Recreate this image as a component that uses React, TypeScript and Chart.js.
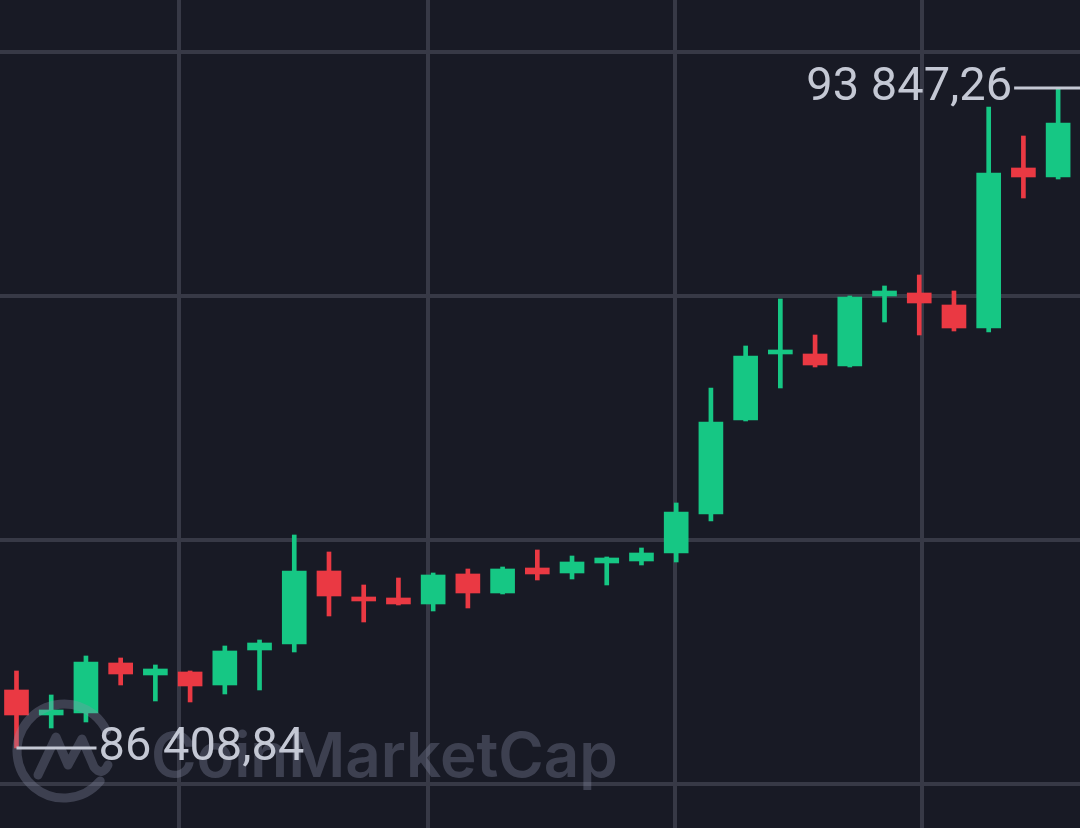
import React, { useEffect, useRef } from "react";
import { Chart, registerables } from "chart.js";

Chart.register(...registerables);

// ---- Data (BTC candles) ----
const candleIndex = [
  0, 1, 2, 3, 4, 5, 6, 7, 8, 9, 10, 11, 12, 13, 14, 15,
  16, 17, 18, 19, 20, 21, 22, 23, 24, 25, 26, 27, 28, 29, 30,
];
const opens = [
  87062.5, 86780.7, 86803.3, 87366.8, 87231.6, 87265.4, 87118.8, 87513.3,
  87580.9, 88403.7, 88110.6, 88099.4, 88031.8, 88369.9, 88155.7, 88437.5,
  88381.1, 88493.8, 88516.4, 88606.5, 89046.1, 90105.5, 90849.4, 90849.4,
  90714.1, 91503.1, 91536.9, 91401.6, 91142.4, 92945.7, 92844.3,
];
const highs = [
  87276.7, 87006.2, 87445.7, 87423.2, 87344.3, 87276.7, 87558.4, 87626.0,
  88809.4, 88617.8, 88245.9, 88324.8, 88381.1, 88426.2, 88448.7, 88640.4,
  88572.7, 88561.5, 88662.9, 89170.1, 90466.2, 90939.5, 91469.3, 91063.5,
  91503.1, 91615.8, 91739.7, 91559.4, 93633.2, 93306.3, 93847.26,
];
const lows = [
  86408.84, 86634.3, 86701.8, 87118.8, 86938.5, 86927.3, 87017.4, 87062.5,
  87490.8, 87896.5, 87828.9, 88020.5, 87952.9, 87986.7, 88144.5, 88302.2,
  88313.5, 88245.9, 88471.3, 88505.1, 88967.2, 90094.3, 90466.2, 90702.9,
  90702.9, 91210.0, 91063.5, 91108.6, 91097.3, 92607.6, 92821.7,
];
const closes = [
  86780.7, 86837.1, 87378.1, 87242.8, 87299.2, 87107.6, 87502.1, 87592.2,
  88403.7, 88121.9, 88065.6, 88031.8, 88358.6, 88155.7, 88426.2, 88369.9,
  88505.1, 88550.2, 88606.5, 89068.6, 90083.0, 90826.8, 90894.5, 90725.4,
  91491.8, 91559.4, 91424.2, 91142.4, 92889.3, 92844.3, 93452.9,
];

// grid positions (price levels and candle-index positions)
const yGridValues = [86003, 88753, 91503, 94253];
const xGridValues = [4.68, 11.84, 18.98, 26.09];
const yRange = [85507, 94839];
const xRange = [-0.475, 30.63];

const watermarkText = "CoinMarketCap";

// ---- Styles ----
const BG = "#181a25";
const GRID = "#373946";
const UP = "#16c784";
const DOWN = "#ea3943";
const LABEL = "#c4c8d4";

function formatPrice(v: number): string {
  const [i, d] = v.toFixed(2).split(".");
  return i.replace(/\B(?=(\d{3})+(?!\d))/g, " ") + "," + d;
}

const overlayPlugin = {
  id: "overlay",
  beforeDraw(chart: any) {
    const ctx = chart.ctx;
    ctx.save();
    ctx.fillStyle = BG;
    ctx.fillRect(0, 0, chart.width, chart.height);
    ctx.restore();
  },
  afterDatasetsDraw(chart: any) {
    const ctx = chart.ctx as CanvasRenderingContext2D;
    const xs = chart.scales.x;
    const ys = chart.scales.y;

    // watermark
    ctx.save();
    ctx.strokeStyle = "rgba(140,145,170,0.32)";
    ctx.fillStyle = "rgba(140,145,170,0.32)";
    ctx.lineWidth = 9;
    ctx.lineCap = "round";
    ctx.lineJoin = "round";
    const cx = 64, cy = 751, r = 47;
    ctx.beginPath();
    ctx.arc(cx, cy, r, 0.22 * Math.PI, 1.86 * Math.PI);
    ctx.stroke();
    ctx.beginPath();
    ctx.moveTo(cx - 26, cy + 24);
    ctx.lineTo(cx - 8, cy - 14);
    ctx.lineTo(cx + 4, cy + 14);
    ctx.lineTo(cx + 18, cy - 12);
    ctx.lineTo(cx + 30, cy + 16);
    ctx.quadraticCurveTo(cx + 38, cy + 26, cx + 44, cy + 14);
    ctx.stroke();
    let fs = 66;
    ctx.font = `600 ${fs}px Inter`;
    const w = ctx.measureText(watermarkText).width;
    fs = (fs * 467) / w;
    ctx.font = `600 ${fs}px Inter`;
    ctx.textAlign = "left";
    ctx.textBaseline = "alphabetic";
    ctx.fillText(watermarkText, 151, 777);
    ctx.restore();

    // high / low labels
    let hiIdx = 0, loIdx = 0;
    highs.forEach((h, i) => { if (h > highs[hiIdx]) hiIdx = i; });
    lows.forEach((l, i) => { if (l < lows[loIdx]) loIdx = i; });
    const hx = xs.getPixelForValue(candleIndex[hiIdx]);
    const hy = ys.getPixelForValue(highs[hiIdx]);
    const lx = xs.getPixelForValue(candleIndex[loIdx]);
    const ly = ys.getPixelForValue(lows[loIdx]);

    ctx.save();
    ctx.strokeStyle = LABEL;
    ctx.fillStyle = LABEL;
    ctx.lineWidth = 3;
    ctx.font = "47px Roboto";
    ctx.textBaseline = "alphabetic";

    ctx.beginPath();
    ctx.moveTo(hx - 44, hy);
    ctx.lineTo(chart.width, hy);
    ctx.stroke();
    ctx.textAlign = "right";
    ctx.fillText(formatPrice(highs[hiIdx]), hx - 46, hy + 12);

    ctx.beginPath();
    ctx.moveTo(lx, ly);
    ctx.lineTo(lx + 80, ly);
    ctx.stroke();
    ctx.textAlign = "left";
    ctx.fillText(formatPrice(lows[loIdx]), lx + 82, ly + 12.5);
    ctx.restore();
  },
};

export default function App() {
  const canvasRef = useRef<HTMLCanvasElement | null>(null);

  useEffect(() => {
    const canvas = canvasRef.current;
    if (!canvas) return;
    const colors = candleIndex.map((_, i) => (closes[i] >= opens[i] ? UP : DOWN));

    const chart = new Chart(canvas, {
      type: "bar",
      data: {
        datasets: [
          {
            label: "body",
            data: candleIndex.map((x, i) => ({ x, y: [opens[i], closes[i]] })) as any,
            backgroundColor: colors,
            borderWidth: 0,
            barThickness: 24,
            grouped: false,
            minBarLength: 4,
            order: 0,
          } as any,
          {
            label: "wick",
            data: candleIndex.map((x, i) => ({ x, y: [lows[i], highs[i]] })) as any,
            backgroundColor: colors,
            borderWidth: 0,
            barThickness: 4,
            grouped: false,
            order: 1,
          } as any,
        ],
      },
      options: {
        animation: false,
        responsive: true,
        maintainAspectRatio: false,
        layout: { padding: 0 },
        plugins: {
          legend: { display: false },
          tooltip: { enabled: false },
        },
        scales: {
          x: {
            type: "linear",
            min: xRange[0],
            max: xRange[1],
            offset: false,
            afterBuildTicks: (scale: any) => {
              scale.ticks = xGridValues.map((v) => ({ value: v }));
            },
            ticks: { display: false },
            border: { display: false },
            grid: { color: GRID, lineWidth: 4, drawTicks: false, offset: false },
          },
          y: {
            type: "linear",
            min: yRange[0],
            max: yRange[1],
            afterBuildTicks: (scale: any) => {
              scale.ticks = yGridValues.map((v) => ({ value: v }));
            },
            ticks: { display: false },
            border: { display: false },
            grid: { color: GRID, lineWidth: 4, drawTicks: false, offset: false },
          },
        },
      } as any,
      plugins: [overlayPlugin],
    });

    return () => chart.destroy();
  }, []);

  return (
    <div
      style={{
        position: "fixed",
        left: 0,
        top: 0,
        width: 1080,
        height: 828,
        background: BG,
      }}
    >
      <canvas ref={canvasRef} />
    </div>
  );
}
